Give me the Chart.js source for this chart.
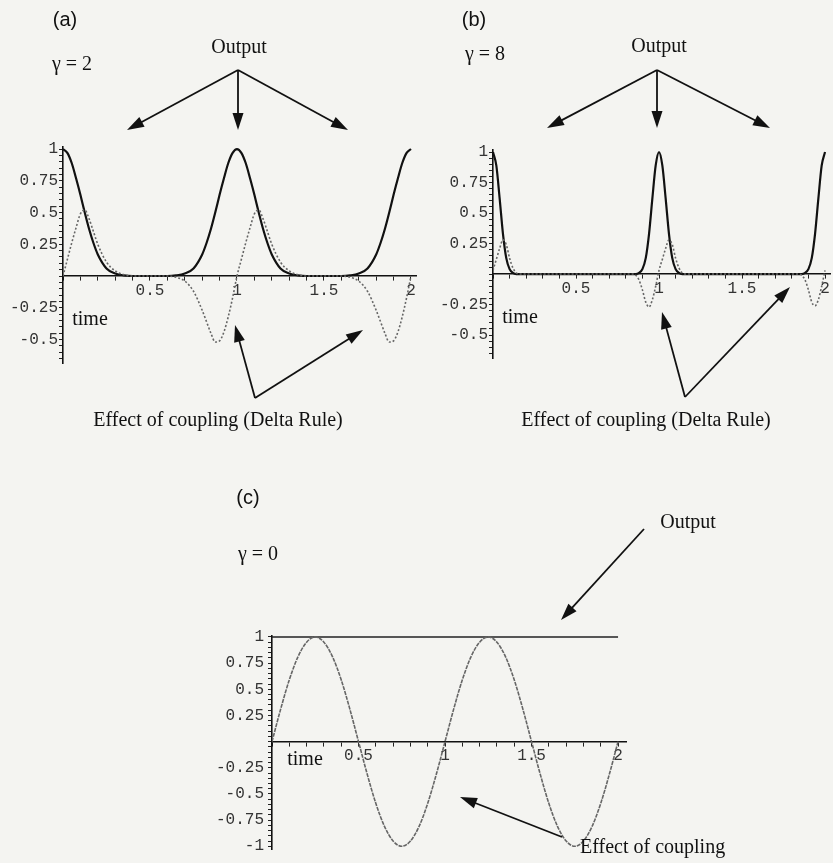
<!DOCTYPE html>
<html>
<head>
<meta charset="utf-8">
<script src="https://cdn.jsdelivr.net/npm/chart.js@4.4.1/dist/chart.umd.min.js"></script>
<style>
  body { margin: 0; background: #f4f4f1; }
  #page { position: relative; width: 833px; height: 863px; overflow: hidden; }
  canvas { position: absolute; }
</style>
</head>
<body>
<div id="page">
  <canvas id="chartA" width="420" height="440" style="left:0;top:0"></canvas>
  <canvas id="chartB" width="413" height="440" style="left:420px;top:0"></canvas>
  <canvas id="chartC" width="653" height="433" style="left:180px;top:430px"></canvas>
</div>
<script>
// panel (a), gamma = 2
const timeA = [0, 0.025, 0.05, 0.075, 0.1, 0.125, 0.15, 0.175, 0.2, 0.25, 0.3, 0.35, 0.4, 0.5, 0.6,
  0.65, 0.7, 0.75, 0.8, 0.825, 0.85, 0.875, 0.9, 0.925, 0.95, 0.975, 1.0,
  1.025, 1.05, 1.075, 1.1, 1.125, 1.15, 1.175, 1.2, 1.25, 1.3, 1.35, 1.4, 1.5, 1.6,
  1.65, 1.7, 1.75, 1.8, 1.825, 1.85, 1.875, 1.9, 1.925, 1.95, 1.975, 2.0];
const outputA = [1, 0.97, 0.89, 0.77, 0.64, 0.5, 0.37, 0.26, 0.17, 0.06, 0.02, 0.005, 0, 0, 0,
  0.005, 0.02, 0.06, 0.17, 0.26, 0.37, 0.5, 0.64, 0.77, 0.89, 0.97, 1,
  0.97, 0.89, 0.77, 0.64, 0.5, 0.37, 0.26, 0.17, 0.06, 0.02, 0.005, 0, 0, 0,
  0.005, 0.02, 0.06, 0.17, 0.26, 0.37, 0.5, 0.64, 0.77, 0.89, 0.97, 1];
const couplingA = [0, 0.13, 0.26, 0.38, 0.49, 0.52, 0.45, 0.35, 0.25, 0.11, 0.04, 0.01, 0, 0, 0,
  -0.01, -0.04, -0.12, -0.27, -0.36, -0.45, -0.52, -0.51, -0.44, -0.32, -0.17, 0,
  0.13, 0.26, 0.38, 0.49, 0.52, 0.45, 0.35, 0.25, 0.11, 0.04, 0.01, 0, 0, 0,
  -0.01, -0.04, -0.12, -0.27, -0.36, -0.45, -0.52, -0.51, -0.44, -0.32, -0.17, 0];

// panel (b), gamma = 8
const timeB = [0, 0.02, 0.04, 0.06, 0.08, 0.1, 0.12, 0.14, 0.16, 0.3, 0.5, 0.7,
  0.84, 0.86, 0.88, 0.9, 0.92, 0.94, 0.96, 0.98, 1.0,
  1.02, 1.04, 1.06, 1.08, 1.1, 1.12, 1.14, 1.16, 1.3, 1.5, 1.7,
  1.84, 1.86, 1.88, 1.9, 1.92, 1.94, 1.96, 1.98, 2.0];
const outputB = [1, 0.89, 0.62, 0.33, 0.13, 0.04, 0.01, 0, 0, 0, 0, 0,
  0, 0, 0.01, 0.04, 0.13, 0.33, 0.62, 0.89, 1,
  0.89, 0.62, 0.33, 0.13, 0.04, 0.01, 0, 0, 0, 0, 0,
  0, 0, 0.01, 0.04, 0.13, 0.33, 0.62, 0.89, 1];
const couplingB = [0.03, 0.12, 0.21, 0.28, 0.24, 0.13, 0.05, 0.01, 0, 0, 0, 0,
  0, -0.01, -0.05, -0.13, -0.23, -0.27, -0.21, -0.1, 0.03,
  0.12, 0.21, 0.28, 0.24, 0.13, 0.05, 0.01, 0, 0, 0, 0,
  0, -0.01, -0.05, -0.13, -0.23, -0.26, -0.21, -0.1, 0.03];

// panel (c), gamma = 0
const timeC = [0, 0.05, 0.1, 0.15, 0.2, 0.25, 0.3, 0.35, 0.4, 0.45, 0.5, 0.55, 0.6, 0.65, 0.7,
  0.75, 0.8, 0.85, 0.9, 0.95, 1.0, 1.05, 1.1, 1.15, 1.2, 1.25, 1.3, 1.35, 1.4, 1.45, 1.5,
  1.55, 1.6, 1.65, 1.7, 1.75, 1.8, 1.85, 1.9, 1.95, 2.0];
const couplingC = [0, 0.31, 0.59, 0.81, 0.95, 1, 0.95, 0.81, 0.59, 0.31, 0, -0.31, -0.59, -0.81, -0.95,
  -1, -0.95, -0.81, -0.59, -0.31, 0, 0.31, 0.59, 0.81, 0.95, 1, 0.95, 0.81, 0.59, 0.31, 0,
  -0.31, -0.59, -0.81, -0.95, -1, -0.95, -0.81, -0.59, -0.31, 0];
const timeOutC = [0, 2];
const outputC = [1, 1];

// tick labels
const xLabels = [0.5, 1, 1.5, 2];
const yLabelsAB = [-0.5, -0.25, 0.25, 0.5, 0.75, 1];
const yLabelsC = [-1, -0.75, -0.5, -0.25, 0.25, 0.5, 0.75, 1];

function pts(t, v) {
  return t.map((x, i) => ({ x: x, y: v[i] }));
}

function steps(from, to, step) {
  const out = [];
  for (let k = Math.ceil(from / step - 1e-9); k * step <= to + 1e-9; k++) {
    out.push(+(k * step).toFixed(3));
  }
  return out;
}

function arrow(ctx, x1, y1, x2, y2) {
  const a = Math.atan2(y2 - y1, x2 - x1);
  const L = 17, W = 5.5;
  ctx.beginPath();
  ctx.moveTo(x1, y1);
  ctx.lineTo(x2 - L * 0.8 * Math.cos(a), y2 - L * 0.8 * Math.sin(a));
  ctx.stroke();
  ctx.beginPath();
  ctx.moveTo(x2, y2);
  ctx.lineTo(x2 - L * Math.cos(a) + W * Math.sin(a), y2 - L * Math.sin(a) - W * Math.cos(a));
  ctx.lineTo(x2 - L * Math.cos(a) - W * Math.sin(a), y2 - L * Math.sin(a) + W * Math.cos(a));
  ctx.closePath();
  ctx.fill();
}

const notesPlugin = {
  id: 'notes',
  afterDraw(chart, args, opts) {
    const ctx = chart.ctx;
    ctx.save();
    ctx.fillStyle = '#111';
    ctx.strokeStyle = '#111';
    ctx.lineWidth = 1.8;
    ctx.textBaseline = 'middle';
    (opts.texts || []).forEach(t => {
      ctx.font = t.font;
      ctx.textAlign = t.align || 'center';
      ctx.fillText(t.text, t.x, t.y);
    });
    (opts.arrows || []).forEach(a => arrow(ctx, a[0], a[1], a[2], a[3]));
    ctx.restore();
  }
};

const serif = '20px "Liberation Serif", "Times New Roman", serif';
const sans = '20px "Liberation Sans", Arial, sans-serif';
const mono = { family: '"Liberation Mono", "Courier New", monospace', size: 16 };

function makePanel(id, datasets, xr, yr, yLabels, pad, yWidth, yGap, notes) {
  const gridOpts = { drawOnChartArea: false, drawTicks: true, tickLength: 4, color: '#222', lineWidth: 1 };
  const borderOpts = { display: true, color: '#111', width: 1.6 };
  new Chart(document.getElementById(id), {
    type: 'line',
    data: { datasets: datasets },
    options: {
      responsive: false,
      animation: false,
      layout: { padding: pad },
      plugins: { legend: { display: false }, tooltip: { enabled: false }, notes: notes },
      elements: { point: { radius: 0 } },
      scales: {
        x: {
          type: 'linear',
          min: xr[0], max: xr[1],
          position: { y: 0 },
          afterFit: s => { s.height = 0; },
          afterBuildTicks: s => { s.ticks = steps(0, 2, 0.1).map(v => ({ value: v })); },
          grid: gridOpts,
          border: borderOpts,
          ticks: {
            autoSkip: false, maxRotation: 0, padding: 1, color: '#333', font: mono,
            callback: v => xLabels.includes(v) ? String(v) : ''
          }
        },
        y: {
          type: 'linear',
          min: yr[0], max: yr[1],
          position: 'left',
          afterFit: s => { s.width = yWidth; },
          afterBuildTicks: s => { s.ticks = steps(yr[0], yr[1], 0.05).map(v => ({ value: v })); },
          grid: gridOpts,
          border: borderOpts,
          ticks: {
            autoSkip: false, padding: yGap, color: '#333', font: mono,
            callback: v => yLabels.includes(v) ? String(v) : ''
          }
        }
      }
    },
    plugins: [notesPlugin]
  });
}

function outputSet(t, v, width, color) {
  return { data: pts(t, v), borderColor: color, borderWidth: width, fill: false,
    cubicInterpolationMode: 'monotone' };
}
function couplingSet(t, v, dash) {
  return { data: pts(t, v), borderColor: '#666', borderWidth: 1.6, borderDash: dash, fill: false,
    cubicInterpolationMode: 'monotone' };
}

makePanel('chartA',
  [couplingSet(timeA, couplingA, [2, 2]), outputSet(timeA, outputA, 2.2, '#111')],
  [0, 2.03], [-0.685, 1.02], yLabelsAB,
  { left: 7, right: 3.8, top: 146.5, bottom: 77 }, 56, 1,
  {
    texts: [
      { text: '(a)', x: 65, y: 20, font: sans },
      { text: 'γ = 2', x: 72, y: 65, font: serif },
      { text: 'Output', x: 239, y: 48, font: serif },
      { text: 'time', x: 90, y: 320, font: serif },
      { text: 'Effect of coupling (Delta Rule)', x: 218, y: 421, font: serif }
    ],
    arrows: [[238, 70, 127, 130], [238, 70, 238, 130], [238, 70, 348, 130],
      [255, 398, 235, 325], [255, 398, 363, 330]]
  });

makePanel('chartB',
  [couplingSet(timeB, couplingB, [2, 2]), outputSet(timeB, outputB, 2.2, '#111')],
  [0, 2.03], [-0.69, 1.02], yLabelsAB,
  { left: 17, right: 3, top: 149.6, bottom: 81.8 }, 56, 1,
  {
    texts: [
      { text: '(b)', x: 54, y: 20, font: sans },
      { text: 'γ = 8', x: 65, y: 55, font: serif },
      { text: 'Output', x: 239, y: 47, font: serif },
      { text: 'time', x: 100, y: 318, font: serif },
      { text: 'Effect of coupling (Delta Rule)', x: 226, y: 421, font: serif }
    ],
    arrows: [[237, 70, 127, 128], [237, 70, 237, 128], [237, 70, 350, 128],
      [265, 397, 242, 312], [265, 397, 370, 287]]
  });

makePanel('chartC',
  [couplingSet(timeC, couplingC, [4, 1]), outputSet(timeOutC, outputC, 1.6, '#222')],
  [0, 2.05], [-1.03, 1.01], yLabelsC,
  { left: 32, right: 206.3, top: 205.9, bottom: 4.7 }, 60, 4,
  {
    texts: [
      { text: '(c)', x: 68, y: 68, font: sans },
      { text: 'γ = 0', x: 78, y: 125, font: serif },
      { text: 'Output', x: 508, y: 93, font: serif },
      { text: 'time', x: 125, y: 330, font: serif },
      { text: 'Effect of coupling', x: 400, y: 418, font: serif, align: 'left' }
    ],
    arrows: [[464, 99, 381, 190], [382, 407, 280, 367]]
  });
</script>
</body>
</html>
